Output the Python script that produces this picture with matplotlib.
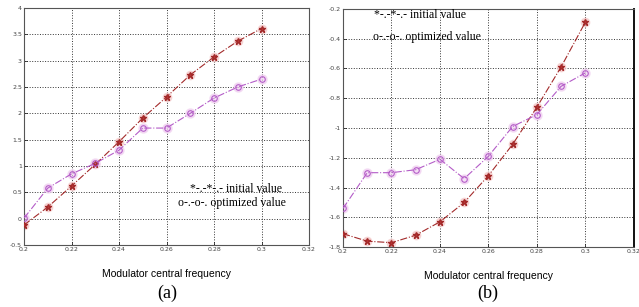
import numpy as np
import matplotlib
matplotlib.use("Agg")
import matplotlib.pyplot as plt

# modulator central frequency
freq = [0.20, 0.21, 0.22, 0.23, 0.24, 0.25, 0.26, 0.27, 0.28, 0.29, 0.30]

# panel (a)
a_initial = [-0.12, 0.22, 0.62, 1.03, 1.46, 1.91, 2.31, 2.73, 3.07, 3.37, 3.61]
a_optimized = [0.01, 0.58, 0.85, 1.05, 1.30, 1.72, 1.72, 2.00, 2.29, 2.50, 2.65]

# panel (b)
b_initial = [-1.71, -1.76, -1.77, -1.72, -1.63, -1.50, -1.32, -1.11, -0.86, -0.59, -0.29]
b_optimized = [-1.54, -1.30, -1.30, -1.28, -1.21, -1.34, -1.19, -0.99, -0.91, -0.72, -0.63]

xticks = [0.20, 0.22, 0.24, 0.26, 0.28, 0.30, 0.32]
xtick_labels = ["0.2", "0.22", "0.24", "0.26", "0.28", "0.3", "0.32"]
a_yticks = [-0.5, 0, 0.5, 1, 1.5, 2, 2.5, 3, 3.5, 4]
a_ylabels = ["-0.5", "0", "0.5", "1", "1.5", "2", "2.5", "3", "3.5", "4"]
b_yticks = [-1.8, -1.6, -1.4, -1.2, -1.0, -0.8, -0.6, -0.4, -0.2]
b_ylabels = ["-1.8", "-1.6", "-1.4", "-1.2", "-1", "-0.8", "-0.6", "-0.4", "-0.2"]

INIT_C = "#a32a2a"
OPT_C = "#b45cc8"
SERIF = "Liberation Serif"
SANS = "Liberation Sans"


def draw_panel(ax, init, opt, yticks, ylabels, ylim):
    # faint halo under the markers, like the blurred scan
    ax.plot(freq, init, ls="none", marker="o", ms=6, color="#f4c8c8", alpha=0.7, zorder=2)
    ax.plot(freq, opt, ls="none", marker="o", ms=6.5, color="#f0d0f0", alpha=0.7, zorder=2)
    ax.plot(freq, init, ls="-.", lw=0.8, color=INIT_C, marker="*", ms=5,
            mfc="#c03535", mec=INIT_C, zorder=3)
    ax.plot(freq, opt, ls="-.", lw=0.8, color=OPT_C, marker="o", ms=4,
            mfc="none", mec=OPT_C, mew=0.8, zorder=3)
    ax.set_xlim(0.2, 0.32)
    ax.set_ylim(*ylim)
    ax.set_xticks(xticks)
    ax.set_xticklabels(xtick_labels)
    ax.set_yticks(yticks)
    ax.set_yticklabels(ylabels)
    ax.tick_params(direction="in", length=2, width=0.5, labelsize=4.5,
                   labelcolor="#444444", pad=1.5)
    ax.grid(True, ls=":", lw=0.7, color="#333333")
    for s in ax.spines.values():
        s.set_linewidth(0.8)
        s.set_color("#555555")
    ax.set_xlabel("Modulator central frequency", fontsize=7.5, family=SANS, labelpad=12)


fig = plt.figure(figsize=(6.39, 3.07), dpi=100)
ax1 = fig.add_axes([0.0376, 0.202, 0.446, 0.772])
ax2 = fig.add_axes([0.5368, 0.195, 0.455, 0.776])

draw_panel(ax1, a_initial, a_optimized, a_yticks, a_ylabels, (-0.5, 4))
draw_panel(ax2, b_initial, b_optimized, b_yticks, b_ylabels, (-1.8, -0.2))
ax2.spines["right"].set_color("#111111")
ax2.spines["right"].set_linewidth(1.4)

# annotation text (drawn as plain text in the original, no frame)
ax1.text(0.745, 0.235, "*-.-*-.- initial value", transform=ax1.transAxes,
         ha="center", va="center", fontsize=8.5, family=SERIF)
ax1.text(0.728, 0.176, "o-.-o-. optimized value", transform=ax1.transAxes,
         ha="center", va="center", fontsize=8.5, family=SERIF)
ax2.text(0.265, 0.975, "*-.-*-.- initial value", transform=ax2.transAxes,
         ha="center", va="center", fontsize=8.5, family=SERIF)
ax2.text(0.29, 0.88, "o-.-o-. optimized value", transform=ax2.transAxes,
         ha="center", va="center", fontsize=8.5, family=SERIF)

fig.text(0.262, 0.045, "(a)", ha="center", va="center", fontsize=13, family=SERIF)
fig.text(0.764, 0.045, "(b)", ha="center", va="center", fontsize=13, family=SERIF)

fig.savefig("out.png", dpi=100)
